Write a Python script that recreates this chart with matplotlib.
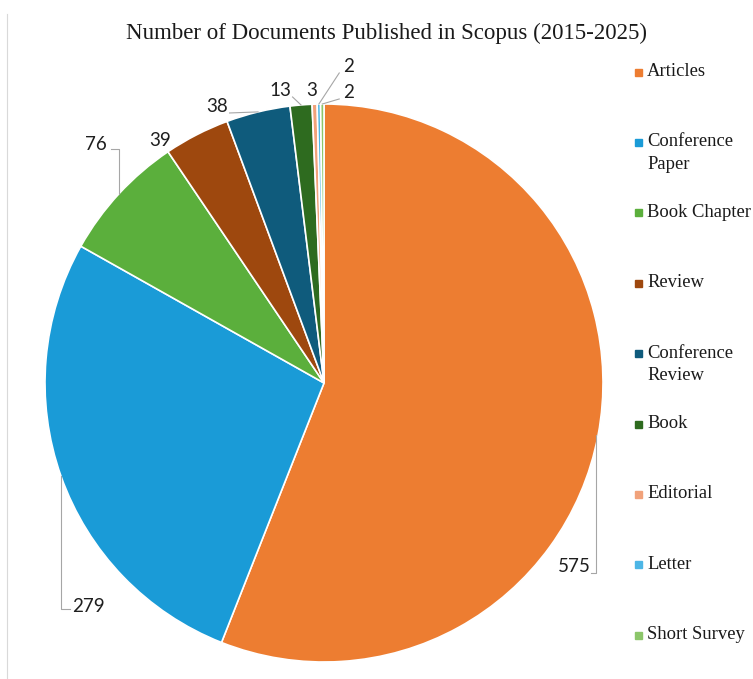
import numpy as np
import matplotlib.pyplot as plt
from matplotlib.lines import Line2D
from matplotlib.patches import Rectangle

# dados (Scopus 2015-2025)
categorias = ["Articles", "Conference Paper", "Book Chapter", "Review",
              "Conference Review", "Book", "Editorial", "Letter", "Short Survey"]
legenda_txt = ["Articles", "Conference\nPaper", "Book Chapter", "Review",
               "Conference\nReview", "Book", "Editorial", "Letter", "Short Survey"]
valores = [575, 279, 76, 39, 38, 13, 3, 2, 2]
cores = ["#ED7D31", "#1A9BD7", "#5BAF3C", "#9E480E", "#0F5B7C",
         "#2E6B1F", "#F1A27A", "#4DB6E6", "#8CC66A"]

W, H = 753, 679
fig = plt.figure(figsize=(W / 100, H / 100), dpi=100)

# centro e raio da pizza em pixels
cx, cy, R = 324, 383, 279
ax = fig.add_axes([(cx - R) / W, (H - cy - R) / H, 2 * R / W, 2 * R / H])
wedges, _ = ax.pie(valores, colors=cores, startangle=90, counterclock=False,
                   radius=1, wedgeprops=dict(edgecolor="white", linewidth=1.2))
ax.set_xlim(-1, 1)
ax.set_ylim(-1, 1)
ax.axis("off")


def px(x, y):
    # pixel da imagem -> coordenadas do eixo
    return (x - cx) / R, (cy - y) / R


def ancora(i):
    w = wedges[i]
    ang = np.deg2rad((w.theta1 + w.theta2) / 2)
    return np.cos(ang), np.sin(ang)


# posicao dos rotulos (pixels) e tipo de linha guia
rotulos = [
    (574, 567, "cotovelo_dir"),
    (88, 606, "cotovelo_esq"),
    (96, 145, "cotovelo_cima"),
    (160, 140, None),
    (217, 106, "reta"),
    (280, 90, "reta"),
    (312, 90, None),
    (349, 66, "reta"),
    (349, 92, "reta"),
]
cor_linha = "#A6A6A6"
for i, (lx, ly, tipo) in enumerate(rotulos):
    tx, ty = px(lx, ly)
    ax.text(tx, ty, str(valores[i]), ha="center", va="center", fontsize=13.5,
            family="Lato", color="#1f1f1f")
    axx, axy = ancora(i)
    if tipo == "cotovelo_dir":
        xs = [tx + 0.06, px(596, 0)[0], px(596, 0)[0]]
        ys = [ty - 0.02, ty - 0.02, axy]
    elif tipo == "cotovelo_esq":
        xs = [axx, axx, tx - 0.065]
        ys = [axy, ty - 0.01, ty - 0.01]
    elif tipo == "cotovelo_cima":
        xs = [tx + 0.055, axx, axx]
        ys = [ty - 0.015, ty - 0.015, axy]
    elif tipo == "reta":
        xs = [tx - 0.035 if lx > 330 else tx + 0.045, axx]
        ys = [ty - 0.025, axy]
    else:
        continue
    ax.add_line(Line2D(xs, ys, color=cor_linha, lw=0.8, clip_on=False))

fig.text(386 / W, 1 - 33 / H, "Number of Documents Published in Scopus (2015-2025)",
         ha="center", va="center", fontsize=16.5, family="Liberation Serif",
         color="#1a1a1a")

# legenda manual
for i, (txt, c) in enumerate(zip(legenda_txt, cores)):
    y = 72 + i * 70.4
    fig.patches.append(Rectangle((635 / W, 1 - (y + 3.5) / H), 7 / W, 7 / H,
                                 transform=fig.transFigure, color=c))
    fig.text(647 / W, 1 - (y - 9) / H, txt, ha="left", va="top", fontsize=13.4,
             family="Liberation Serif", color="#1a1a1a", linespacing=1.4)

fig.add_artist(Line2D([7 / W, 7 / W], [0, 1 - 14 / H], color="#D9D9D9", lw=0.8,
                      transform=fig.transFigure))

fig.savefig("out.png", dpi=100)
